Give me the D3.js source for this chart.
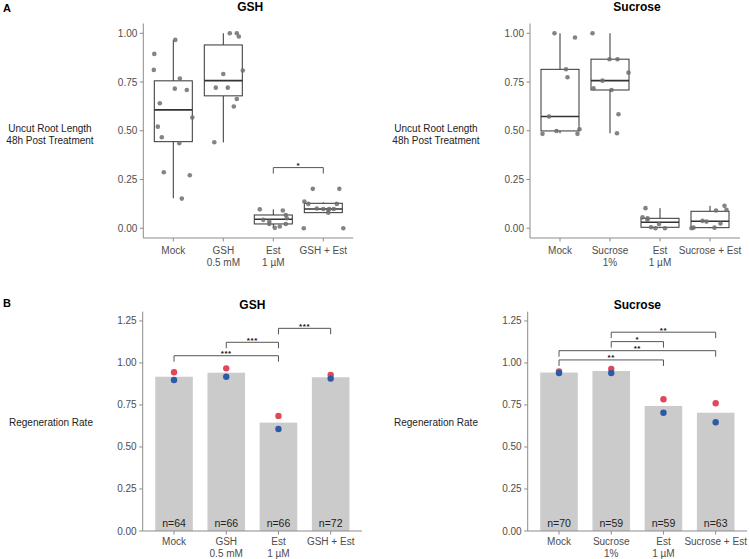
<!DOCTYPE html>
<html><head><meta charset="utf-8">
<script src="https://cdn.jsdelivr.net/npm/d3@7"></script>
<style>
body{margin:0;background:#fff;}
text{font-family:"Liberation Sans",Arial,sans-serif;}
</style></head>
<body><svg id="c" width="750" height="559"></svg>
<script>
// ---------- DATA ----------
const gshCats = [["Mock"],["GSH","0.5 mM"],["Est","1 µM"],["GSH + Est"]];
const sucCats = [["Mock"],["Sucrose","1%"],["Est","1 µM"],["Sucrose + Est"]];
const boxTicks = [0, 0.25, 0.5, 0.75, 1.0];
const barTicks = [0, 0.25, 0.5, 0.75, 1.0, 1.25];

// box stats: [lower whisker, q1, median, q3, upper whisker]
const gshBoxes = [[0.154,0.444,0.607,0.756,0.966],[0.44,0.679,0.757,0.940,1.0],[0.002,0.022,0.046,0.068,0.097],[0.080,0.080,0.099,0.128,0.133]];
const sucBoxes = [[0.487,0.499,0.573,0.815,1.0],[0.487,0.709,0.757,0.867,1.0],[0.0,0.005,0.031,0.051,0.103],[0.0,0.003,0.036,0.087,0.115]];

// jittered points: values and horizontal jitter (fraction of category step)
const gshPtVals = [
  [0.894,0.812,0.641,0.521,0.467,0.287,0.966,0.716,0.768,0.709,0.568,0.436,0.272,0.152],
  [1.0,1.0,0.983,0.809,0.791,0.721,0.721,0.663,0.624,0.441],
  [0.097,0.043,0.034,0.022,0.002,0.009,0.091,0.068,0.051,0.022],
  [0.137,0.202,0.125,0.0,0.101,0.099,0.080,0.099,0.099,0.125,0.202,0.0,0.094]];
const gshPtJit = [
  [-0.38,-0.39,-0.27,-0.31,-0.23,-0.19,0.04,0.03,0.13,0.27,0.38,0.12,0.33,0.17],
  [0.13,0.27,0.31,0.39,0.0,-0.15,0.09,0.27,0.21,-0.18],
  [-0.27,-0.2,-0.08,-0.08,0.03,0.13,0.19,0.25,0.27,0.25],
  [-0.38,-0.21,-0.3,-0.39,-0.13,0.0,0.1,0.12,0.21,0.27,0.32,0.4,0.1]];
const sucPtVals = [
  [1.0,0.978,0.815,0.774,0.573,0.499,0.484,0.484,0.508],
  [1.0,0.867,0.867,0.798,0.757,0.718,0.709,0.585,0.487],
  [0.103,0.056,0.051,0.043,0.005,0.0,0.022,0.0],
  [0.0,0.003,0.038,0.034,0.091,0.024,0.003,0.115,0.094]];
const sucPtJit = [
  [-0.11,0.3,0.12,0.15,-0.22,-0.07,-0.35,0.35,0.39],
  [-0.35,-0.01,0.15,0.37,-0.15,-0.33,0.03,0.17,0.14],
  [-0.29,-0.35,-0.25,-0.25,-0.18,-0.09,-0.02,0.1],
  [-0.37,-0.33,-0.15,-0.07,0.12,0.21,0.09,0.29,0.33]];
const gshBoxSig = [{a:2,b:3,y:0.311,label:"*"}];
const sucBoxSig = [];

// regeneration rate
const gshRate = [0.918,0.942,0.645,0.915];
const gshRed  = [0.945,0.968,0.685,0.929];
const gshBlue = [0.899,0.918,0.607,0.907];
const gshN    = ["n=64","n=66","n=66","n=72"];
const gshBarSig = [{a:0,b:2,y:1.043,label:"***"},{a:1,b:2,y:1.123,label:"***"},{a:2,b:3,y:1.206,label:"***"}];
const sucRate = [0.943,0.952,0.744,0.704];
const sucRed  = [0.949,0.964,0.784,0.760];
const sucBlue = [0.940,0.940,0.704,0.647];
const sucN    = ["n=70","n=59","n=59","n=63"];
const sucBarSig = [{a:0,b:2,y:1.018,label:"**"},{a:0,b:3,y:1.073,label:"**"},{a:1,b:2,y:1.127,label:"*"},{a:1,b:3,y:1.183,label:"**"}];

// ---------- DRAW ----------
const svg = d3.select("#c");
const AX = "#8c8c8c", TXT = "#4d4d4d";

function axes(g, x, y, ticks, cats, yBase, labY){
  const [x0,x1] = x.range();
  const [yb,yt] = y.range();
  g.append("line").attr("x1",x0).attr("x2",x0).attr("y1",yb).attr("y2",yt).attr("stroke",AX).attr("stroke-width",1);
  g.append("line").attr("x1",x0).attr("x2",x1).attr("y1",yb).attr("y2",yb).attr("stroke",AX).attr("stroke-width",1);
  ticks.forEach(t=>{
    g.append("line").attr("x1",x0-3.5).attr("x2",x0).attr("y1",y(t)).attr("y2",y(t)).attr("stroke",AX);
    g.append("text").attr("x",x0-6).attr("y",y(t)).attr("dy","0.35em").attr("text-anchor","end")
      .attr("font-size",10).attr("fill",TXT).text(t.toFixed(2));
  });
  cats.forEach((c,i)=>{
    const cx = x(i);
    g.append("line").attr("x1",cx).attr("x2",cx).attr("y1",yb).attr("y2",yb+3.5).attr("stroke",AX);
    c.forEach((ln,j)=>{
      g.append("text").attr("x",cx).attr("y",labY+j*12).attr("dy","0.35em").attr("text-anchor","middle")
        .attr("font-size",10).attr("fill",TXT).text(ln);
    });
  });
}

function sig(g, x, y, list, fs){
  list.forEach(s=>{
    const xa=x(s.a), xb=x(s.b), yy=y(s.y);
    g.append("path").attr("d",`M${xa},${yy+6}V${yy}H${xb}V${yy+6}`).attr("fill","none").attr("stroke","#555").attr("stroke-width",1);
    g.append("text").attr("x",(xa+xb)/2).attr("y",yy+0.5).attr("text-anchor","middle").attr("font-size",fs)
      .attr("letter-spacing",0.6).attr("font-weight","bold").attr("fill","#111").text(s.label);
  });
}

function boxPanel(x0,x1,title,cats,boxes,vals,jit,sigs,ylab1,ylab2,labX){
  const g = svg.append("g");
  const x = d3.scalePoint().domain(d3.range(cats.length)).range([x0,x1]).padding(0.6);
  const y = d3.scaleLinear().domain([-0.05,1.05]).range([238,23.5]);
  const step = x.step();
  axes(g,x,y,boxTicks,cats,238,250);
  g.append("text").attr("x",(x0+x1)/2+2).attr("y",7).attr("dy","0.35em").attr("text-anchor","middle")
    .attr("font-size",12).attr("font-weight","bold").attr("fill","#000").text(title);
  g.append("text").attr("x",labX).attr("y",128).attr("dy","0.35em").attr("text-anchor","middle").attr("font-size",10).attr("fill","#222").text(ylab1);
  g.append("text").attr("x",labX).attr("y",140).attr("dy","0.35em").attr("text-anchor","middle").attr("font-size",10).attr("fill","#222").text(ylab2);
  const bw = 0.76*step;
  boxes.forEach((b,i)=>{
    const cx=x(i);
    g.append("line").attr("x1",cx).attr("x2",cx).attr("y1",y(b[3])).attr("y2",y(b[4])).attr("stroke","#333");
    g.append("line").attr("x1",cx).attr("x2",cx).attr("y1",y(b[1])).attr("y2",y(b[0])).attr("stroke","#333");
    g.append("rect").attr("x",cx-bw/2).attr("width",bw).attr("y",y(b[3])).attr("height",y(b[1])-y(b[3]))
      .attr("fill","#fff").attr("stroke","#333").attr("stroke-width",1);
    g.append("line").attr("x1",cx-bw/2).attr("x2",cx+bw/2).attr("y1",y(b[2])).attr("y2",y(b[2])).attr("stroke","#333").attr("stroke-width",1.6);
  });
  vals.forEach((vs,i)=>{
    vs.forEach((v,k)=>{
      g.append("circle").attr("cx",x(i)+jit[i][k]*step).attr("cy",y(v)).attr("r",2.3).attr("fill","#6e6e6e").attr("fill-opacity",0.85);
    });
  });
  sig(g,x,y,sigs,8);
}

function barPanel(x0,x1,title,cats,rate,red,blue,ns,sigs,labX){
  const g = svg.append("g");
  const x = d3.scalePoint().domain(d3.range(cats.length)).range([x0,x1]).padding(0.6);
  const y = d3.scaleLinear().domain([0,1.305]).range([531,311.7]);
  const step = x.step();
  const bw = 0.72*step;
  rate.forEach((r,i)=>{
    g.append("rect").attr("x",x(i)-bw/2).attr("width",bw).attr("y",y(r)).attr("height",y(0)-y(r)).attr("fill","#cbcbcb");
  });
  axes(g,x,y,barTicks,cats,531,541);
  g.append("text").attr("x",(x0+x1)/2).attr("y",305).attr("dy","0.35em").attr("text-anchor","middle")
    .attr("font-size",12).attr("font-weight","bold").attr("fill","#000").text(title);
  g.append("text").attr("x",labX).attr("y",422).attr("dy","0.35em").attr("text-anchor","middle").attr("font-size",10).attr("fill","#222").text("Regeneration Rate");
  ns.forEach((n,i)=>{
    g.append("text").attr("x",x(i)).attr("y",523).attr("dy","0.35em").attr("text-anchor","middle").attr("font-size",10.5).attr("fill","#222").text(n);
  });
  red.forEach((v,i)=>g.append("circle").attr("cx",x(i)).attr("cy",y(v)).attr("r",3.2).attr("fill","#e0485a"));
  blue.forEach((v,i)=>g.append("circle").attr("cx",x(i)).attr("cy",y(v)).attr("r",3.2).attr("fill","#2d5aa6"));
  sig(g,x,y,sigs,8);
}

boxPanel(143.3,353.3,"GSH",gshCats,gshBoxes,gshPtVals,gshPtJit,gshBoxSig,"Uncut Root Length","48h Post Treatment",50);
boxPanel(530,740,"Sucrose",sucCats,sucBoxes,sucPtVals,sucPtJit,sucBoxSig,"Uncut Root Length","48h Post Treatment",436);
barPanel(142.7,362,"GSH",gshCats,gshRate,gshRed,gshBlue,gshN,gshBarSig,51);
barPanel(527.7,747,"Sucrose",sucCats,sucRate,sucRed,sucBlue,sucN,sucBarSig,436);

svg.append("text").attr("x",3).attr("y",8).attr("dy","0.35em").attr("font-size",11).attr("font-weight","bold").text("A");
svg.append("text").attr("x",3).attr("y",303).attr("dy","0.35em").attr("font-size",11).attr("font-weight","bold").text("B");
</script></body></html>
